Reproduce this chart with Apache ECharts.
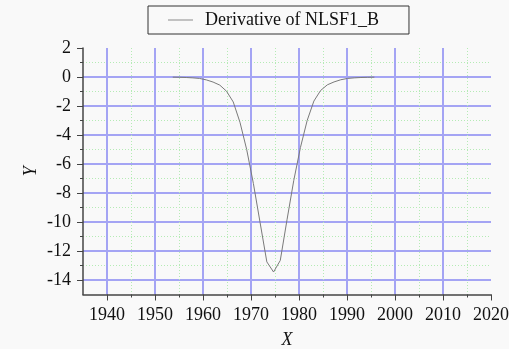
<!DOCTYPE html>
<html>
<head>
<meta charset="utf-8">
<script src="https://cdn.jsdelivr.net/npm/echarts@6/dist/echarts.min.js"></script>
<style>html,body{margin:0;padding:0;background:#f9f9f9}#c{width:509px;height:349px}</style>
</head>
<body>
<div id="c"></div>
<script>
// Data
const seriesName = 'Derivative of NLSF1_B';
const years = [1953.7, 1955.1, 1956.5, 1957.9, 1959.3, 1960.7, 1962.1, 1963.5, 1964.9, 1966.3,
  1967.7, 1969.1, 1970.5, 1971.9, 1973.3, 1974.7, 1976.1, 1977.5, 1978.9, 1980.3,
  1981.7, 1983.1, 1984.5, 1985.9, 1987.3, 1988.7, 1990.1, 1991.5, 1992.9, 1994.3, 1995.7];
const values = [-0.01, -0.02, -0.035, -0.06, -0.1, -0.2, -0.35, -0.56, -0.98, -1.72,
  -3.12, -5.0, -7.35, -10.05, -12.75, -13.45, -12.65, -9.85, -7.15, -4.86,
  -3.0, -1.66, -0.93, -0.54, -0.34, -0.19, -0.1, -0.06, -0.035, -0.02, -0.01];
const xMajorTicks = [1940, 2020, 10];
const yMajorTicks = [-14, 2, 2];
const xRange = [1935, 2020];
const yRange = [-15, 2];

const FONT = "'Liberation Serif', 'Times New Roman', serif";
const BLUE = '#a4a4f4';
const GREEN = '#b5ebb5';
const AX = '#444';

function hiddenAxis(extra) {
  return Object.assign({
    show: false, type: 'value',
    axisLine: { show: false }, axisTick: { show: false },
    axisLabel: { show: false }, splitLine: { show: false },
    minorTick: { show: false }, minorSplitLine: { show: false }
  }, extra);
}

const chart = echarts.init(document.getElementById('c'));
chart.setOption({
  backgroundColor: '#f9f9f9',
  animation: false,
  legend: {
    left: 148, top: 6,
    padding: [5, 30, 5, 20],
    borderColor: '#333', borderWidth: 1,
    itemWidth: 25, itemHeight: 1,
    icon: 'rect',
    itemStyle: { color: '#8a8a8a' },
    textStyle: { fontFamily: FONT, fontSize: 18, color: '#111', padding: [0, 0, 0, 7] },
    data: [seriesName]
  },
  grid: [
    { left: 83, right: 18, top: 48, bottom: 54.5, outerBoundsMode: 'none', containLabel: false },
    { left: 107, right: 18, top: 48, bottom: 54.5, outerBoundsMode: 'none', containLabel: false },
    { left: 83, right: 18, top: 48, bottom: 69, outerBoundsMode: 'none', containLabel: false }
  ],
  xAxis: [
    {
      gridIndex: 0, type: 'value', min: xRange[0], max: xRange[1], interval: 5, z: 2,
      name: 'X', nameLocation: 'middle', nameGap: 37,
      nameTextStyle: { fontFamily: FONT, fontSize: 18, fontStyle: 'italic', color: '#111' },
      axisLine: { show: true, onZero: false, lineStyle: { color: AX, width: 1.5 } },
      axisTick: { show: false },
      axisLabel: { show: false },
      splitLine: { show: false }
    },
    {
      gridIndex: 1, type: 'value', min: xMajorTicks[0], max: xMajorTicks[1], interval: xMajorTicks[2], z: 1,
      axisLine: { show: false, onZero: false },
      axisTick: { show: true, length: 6, lineStyle: { color: AX } },
      minorTick: { show: true, splitNumber: 2, length: 3, lineStyle: { color: AX } },
      minorSplitLine: { show: true, lineStyle: { color: GREEN, type: [1, 2], width: 1 } },
      axisLabel: { show: true, margin: 12, fontFamily: FONT, fontSize: 18, color: '#111', formatter: v => String(v) },
      splitLine: { show: true, showMaxLine: false, lineStyle: { color: BLUE, width: 2 } }
    },
    hiddenAxis({ gridIndex: 2, min: xRange[0], max: xRange[1] })
  ],
  yAxis: [
    {
      gridIndex: 0, type: 'value', min: yRange[0], max: yRange[1], interval: 1, z: 2,
      name: 'Y', nameLocation: 'middle', nameGap: 43,
      nameTextStyle: { fontFamily: FONT, fontSize: 18, fontStyle: 'italic', color: '#111' },
      axisLine: { show: true, onZero: false, lineStyle: { color: AX, width: 1.5 } },
      axisTick: { show: false },
      axisLabel: { show: false },
      splitLine: { show: false }
    },
    hiddenAxis({ gridIndex: 1, min: yRange[0], max: yRange[1] }),
    {
      gridIndex: 2, type: 'value', min: yMajorTicks[0], max: yMajorTicks[1], interval: yMajorTicks[2], z: 1,
      axisLine: { show: false, onZero: false },
      axisTick: { show: true, length: 6, lineStyle: { color: AX } },
      minorTick: { show: true, splitNumber: 2, length: 3, lineStyle: { color: AX } },
      minorSplitLine: { show: true, lineStyle: { color: GREEN, type: [1, 2], width: 1 } },
      axisLabel: { show: true, margin: 12, fontFamily: FONT, fontSize: 18, color: '#111', formatter: v => String(v) },
      splitLine: { show: true, showMaxLine: false, lineStyle: { color: BLUE, width: 2 } }
    }
  ],
  series: [{
    name: seriesName,
    type: 'line',
    xAxisIndex: 0, yAxisIndex: 0,
    symbol: 'none', showSymbol: false,
    lineStyle: { color: '#7a7a7a', width: 1 },
    itemStyle: { color: '#7a7a7a' },
    data: years.map((y, i) => [y, values[i]]),
    z: 5
  }]
});
</script>
</body>
</html>
